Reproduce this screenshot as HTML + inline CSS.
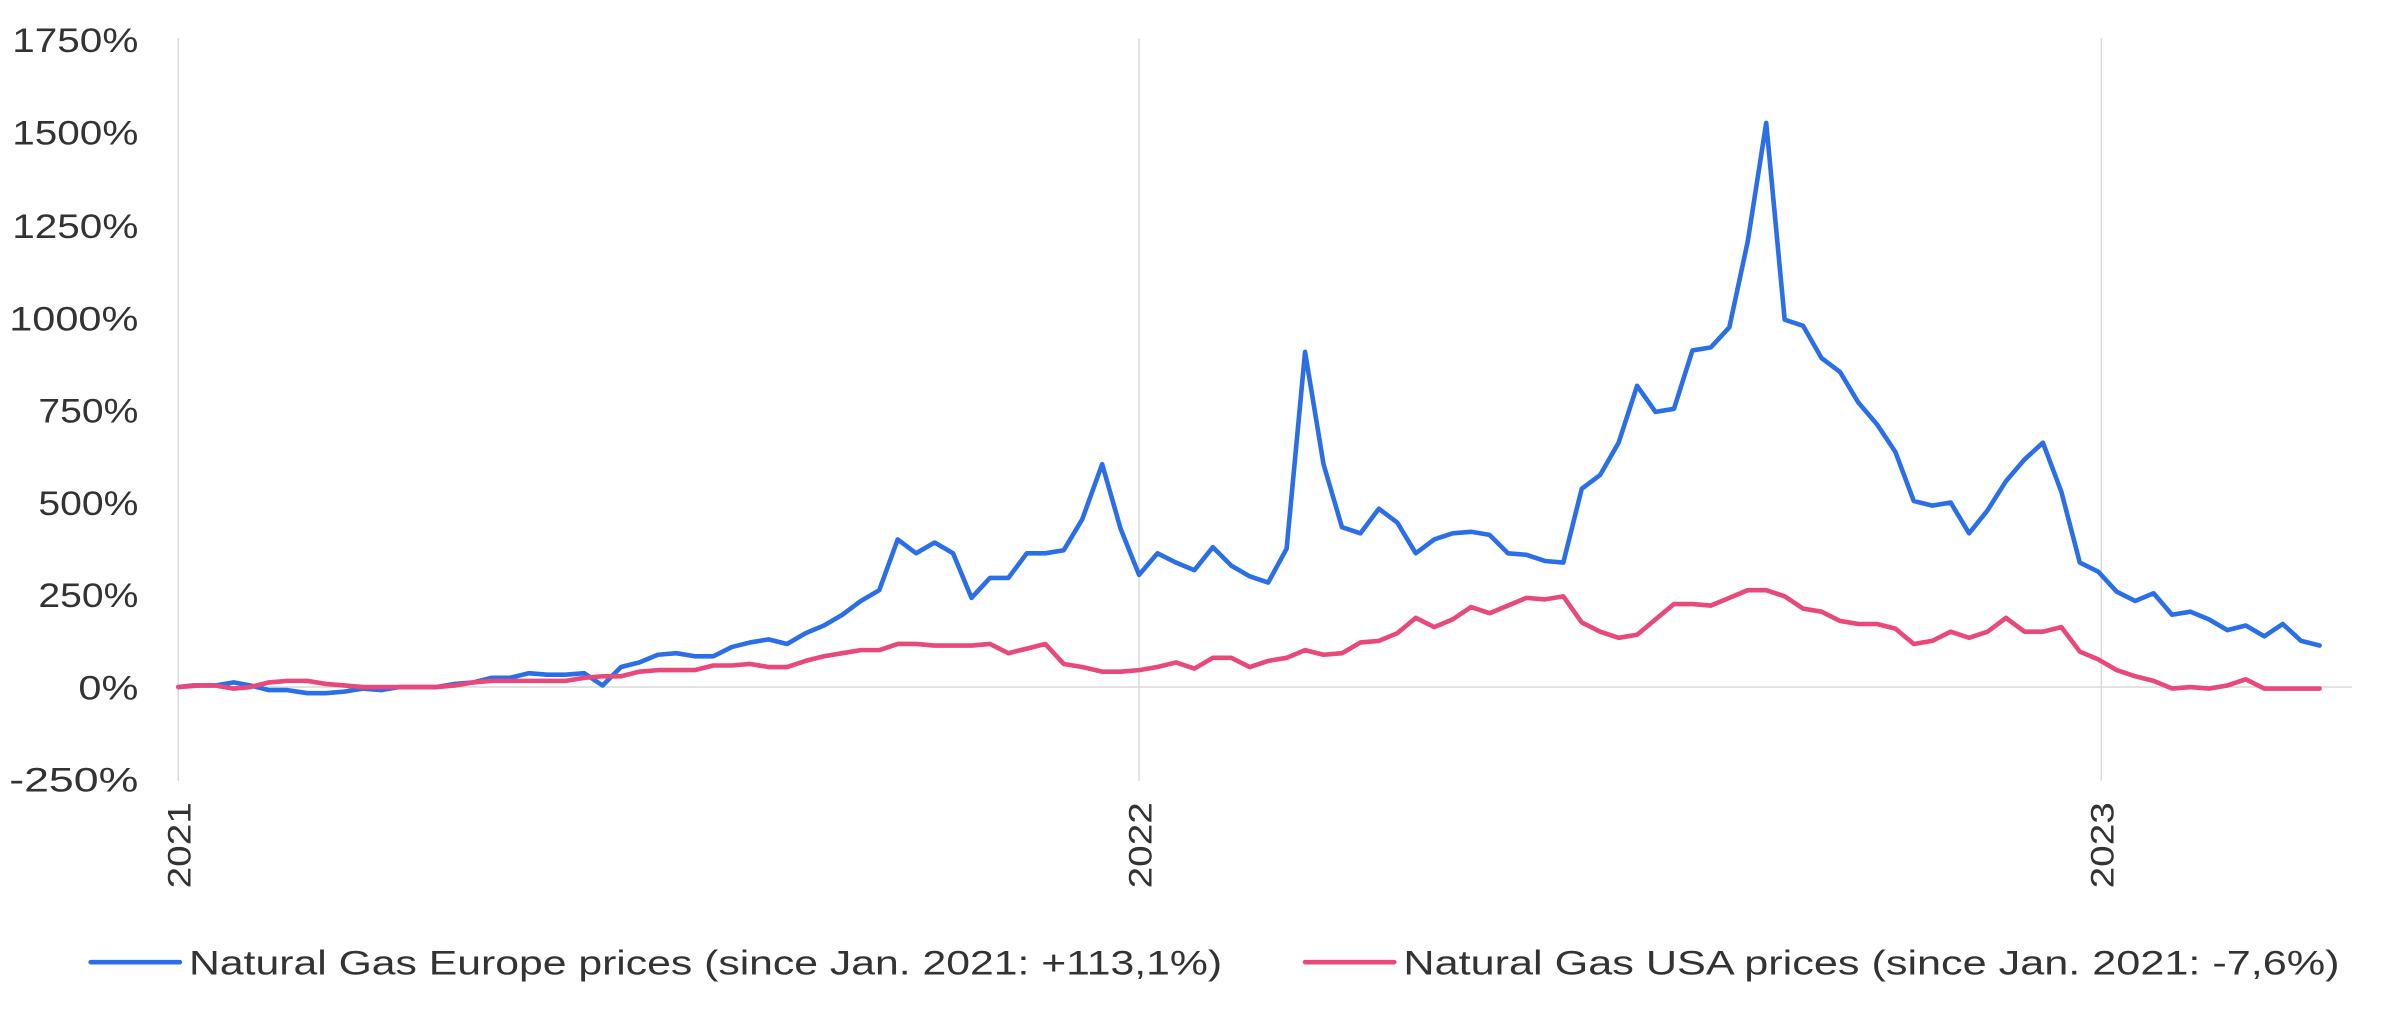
<!DOCTYPE html>
<html><head><meta charset="utf-8"><style>html,body{margin:0;padding:0;background:#fff}svg{display:block}</style></head>
<body>
<svg width="2398" height="1019" viewBox="0 0 1560 663" preserveAspectRatio="none" xmlns="http://www.w3.org/2000/svg" font-family="Liberation Sans, sans-serif">
<g stroke="#d9d9d9" stroke-width="1">
<line x1="116" y1="25" x2="116" y2="508"/>
<line x1="741" y1="25" x2="741" y2="508"/>
<line x1="1367" y1="25" x2="1367" y2="508"/>
<line x1="116" y1="447" x2="1530" y2="447"/>
</g>
<g fill="#333" font-size="22" text-anchor="end" lengthAdjust="spacingAndGlyphs">
<text x="90" y="34" textLength="82" lengthAdjust="spacingAndGlyphs">1750%</text>
<text x="90" y="94" textLength="82" lengthAdjust="spacingAndGlyphs">1500%</text>
<text x="90" y="155" textLength="82" lengthAdjust="spacingAndGlyphs">1250%</text>
<text x="90" y="215" textLength="84" lengthAdjust="spacingAndGlyphs">1000%</text>
<text x="90" y="275" textLength="65" lengthAdjust="spacingAndGlyphs">750%</text>
<text x="90" y="335" textLength="65" lengthAdjust="spacingAndGlyphs">500%</text>
<text x="90" y="395" textLength="65" lengthAdjust="spacingAndGlyphs">250%</text>
<text x="90" y="455" textLength="39" lengthAdjust="spacingAndGlyphs">0%</text>
<text x="90" y="515" textLength="84" lengthAdjust="spacingAndGlyphs">-250%</text>
</g>
<g fill="#333" font-size="21" text-anchor="end">
<text transform="translate(124,522) rotate(-90)" textLength="56" lengthAdjust="spacingAndGlyphs">2021</text>
<text transform="translate(749,522) rotate(-90)" textLength="56" lengthAdjust="spacingAndGlyphs">2022</text>
<text transform="translate(1375,522) rotate(-90)" textLength="56" lengthAdjust="spacingAndGlyphs">2023</text>
</g>
<polyline fill="none" stroke="#2b6fe8" stroke-width="3" stroke-linejoin="round" stroke-linecap="round" points="116,447 125,446 140,446 152,444 163,446 175,449 187,449 200,451 212,451 224,450 236,448 248,449 260,447 272,447 284,447 296,445 308,444 320,441 332,441 344,438 356,439 368,439 380,438 392,446 404,434 416,431 428,426 440,425 452,427 464,427 476,421 488,418 500,416 512,419 524,412 536,407 548,400 560,391 572,384 584,351 596,360 608,353 620,360 632,389 644,376 656,376 668,360 680,360 692,358 704,338 717,302 729,344 741,374 753,360 765,366 777,371 789,356 801,368 813,375 825,379 837,357 849,229 861,302 873,343 885,347 897,331 909,340 921,360 933,351 945,347 957,346 969,348 981,360 993,361 1005,365 1017,366 1029,318 1041,309 1053,288 1065,251 1077,268 1089,266 1101,228 1113,226 1125,213 1137,157 1149,80 1161,208 1173,212 1185,233 1197,242 1209,262 1221,276 1233,294 1245,326 1257,329 1269,327 1281,347 1293,332 1305,313 1317,299 1329,288 1341,320 1353,366 1365,372 1377,385 1389,391 1401,386 1413,400 1425,398 1437,403 1449,410 1461,407 1473,414 1485,406 1497,417 1509,420"/>
<polyline fill="none" stroke="#e8497a" stroke-width="3" stroke-linejoin="round" stroke-linecap="round" points="116,447 130,446 140,446 152,448 163,447 175,444 187,443 200,443 212,445 224,446 236,447 248,447 260,447 272,447 284,447 296,446 308,444 320,443 332,443 344,443 356,443 368,443 380,441 392,440 404,440 416,437 428,436 440,436 452,436 464,433 476,433 488,432 500,434 512,434 524,430 536,427 548,425 560,423 572,423 584,419 596,419 608,420 620,420 632,420 644,419 656,425 668,422 680,419 692,432 704,434 717,437 729,437 741,436 753,434 765,431 777,435 789,428 801,428 813,434 825,430 837,428 849,423 861,426 873,425 885,418 897,417 909,412 921,402 933,408 945,403 957,395 969,399 981,394 993,389 1005,390 1017,388 1029,405 1041,411 1053,415 1065,413 1077,403 1089,393 1101,393 1113,394 1125,389 1137,384 1149,384 1161,388 1173,396 1185,398 1197,404 1209,406 1221,406 1233,409 1245,419 1257,417 1269,411 1281,415 1293,411 1305,402 1317,411 1329,411 1341,408 1353,424 1365,429 1377,436 1389,440 1401,443 1413,448 1425,447 1437,448 1449,446 1461,442 1473,448 1485,448 1497,448 1509,448"/>
<line x1="59" y1="626" x2="117" y2="626" stroke="#2b6fe8" stroke-width="3" stroke-linecap="round"/>
<line x1="849" y1="626" x2="907" y2="626" stroke="#e8497a" stroke-width="3" stroke-linecap="round"/>
<g fill="#333" font-size="22">
<text x="123" y="634" textLength="672" lengthAdjust="spacingAndGlyphs">Natural Gas Europe prices (since Jan. 2021: +113,1%)</text>
<text x="913" y="634" textLength="609" lengthAdjust="spacingAndGlyphs">Natural Gas USA prices (since Jan. 2021: -7,6%)</text>
</g>
</svg>
</body></html>
